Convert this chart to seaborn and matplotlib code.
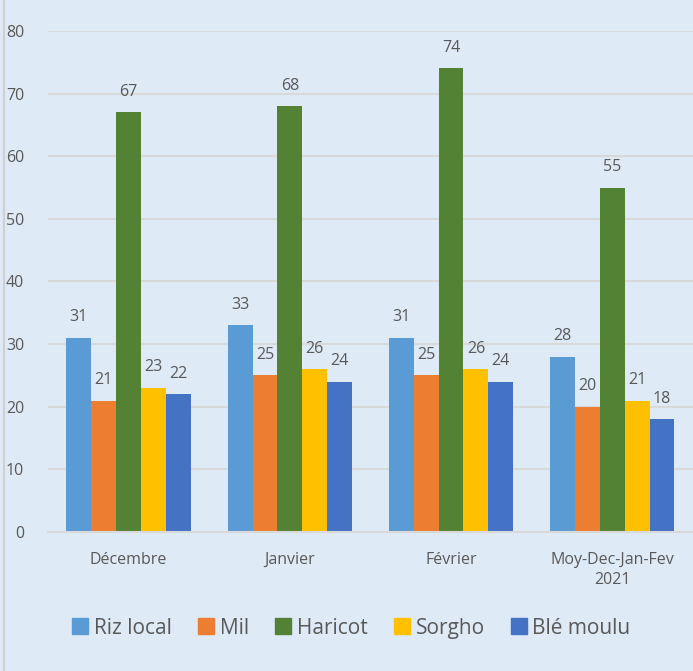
import matplotlib
matplotlib.use("Agg")
import matplotlib.pyplot as plt
import seaborn as sns
import pandas as pd
from matplotlib.lines import Line2D

periods = ["Décembre", "Janvier", "Février", "Moy-Dec-Jan-Fev\n2021"]
products = ["Riz local", "Mil", "Haricot", "Sorgho", "Blé moulu"]
riz_local = [31, 33, 31, 28]
mil = [21, 25, 25, 20]
haricot = [67, 68, 74, 55]
sorgho = [23, 26, 26, 21]
ble_moulu = [22, 24, 24, 18]
colors = ["#5B9BD5", "#ED7D31", "#548235", "#FFC000", "#4472C4"]

bg = "#DEEAF6"
txt = "#595959"

rows = []
for name, vals in zip(products, [riz_local, mil, haricot, sorgho, ble_moulu]):
    for p, v in zip(periods, vals):
        rows.append({"periode": p, "produit": name, "valeur": v})
df = pd.DataFrame(rows)

sns.set_style("white")
plt.rcParams["font.family"] = ["Open Sans", "DejaVu Sans"]

fig = plt.figure(figsize=(6.93, 6.71), dpi=100, facecolor=bg)
ax = fig.add_axes([0.069, 0.207, 0.931, 0.747])
ax.set_facecolor(bg)

sns.barplot(data=df, x="periode", y="valeur", hue="produit", order=periods,
            hue_order=products, palette=colors, width=0.77, saturation=1,
            linewidth=0, ax=ax, legend=False)

for c in ax.containers:
    ax.bar_label(c, padding=9, fontsize=11.5, color=txt)

ax.set_ylim(0, 80)
ax.set_xlim(-0.5, 3.5)
ax.set_yticks(range(0, 81, 10))
ax.yaxis.grid(True, color="#D9D9D9", linewidth=1.5)
ax.set_axisbelow(True)
for s in ["top", "right", "left"]:
    ax.spines[s].set_visible(False)
ax.spines["bottom"].set_color("#D9D9D9")
ax.spines["bottom"].set_linewidth(1.5)
ax.tick_params(axis="both", length=0, labelsize=11.5, labelcolor=txt)
ax.tick_params(axis="y", pad=17)
ax.tick_params(axis="x", pad=14)
for lab in ax.get_xticklabels():
    lab.set_linespacing(1.35)
ax.set_xlabel("")
ax.set_ylabel("")

handles = [Line2D([], [], marker="s", linestyle="", markersize=11,
                  markerfacecolor=c, markeredgecolor=c) for c in colors]
fig.legend(handles, products, loc="center", bbox_to_anchor=(0.507, 0.064),
           ncol=5, frameon=False, fontsize=15, labelcolor=txt,
           handlelength=0.8, handletextpad=0.25, columnspacing=1.25)

fig.add_artist(Line2D([0.006, 0.006], [0, 1], transform=fig.transFigure,
                      color="#D0D0D0", linewidth=1.5))

fig.savefig("out.png", dpi=100, facecolor=bg)
